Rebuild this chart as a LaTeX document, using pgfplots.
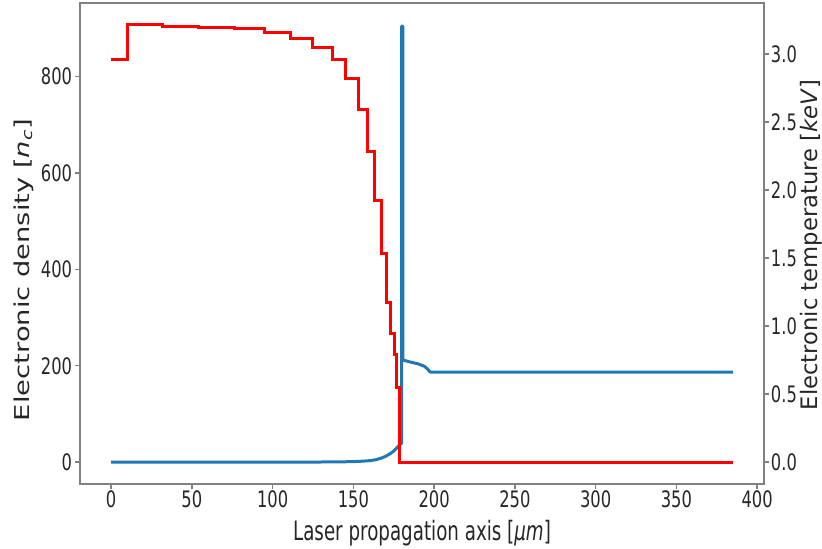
\documentclass[border=0pt]{standalone}
\usepackage{pgfplots}
\pgfplotsset{compat=1.18}
\usepackage{fontspec}
\setmainfont{DejaVu Sans}
\newfontfamily\tickfont[FakeStretch=0.72]{DejaVu Sans}
\newfontfamily\xlabfont[FakeStretch=0.685]{DejaVu Sans}
\newfontfamily\ylabfont{DejaVu Sans}
\definecolor{mplblue}{HTML}{1F77B4}
\definecolor{mplred}{HTML}{FF0000}
\definecolor{framegray}{HTML}{808080}
\begin{document}
\begin{tikzpicture}
\pgfplotsset{
  every axis/.append style={
    scale only axis, width=513pt, height=360.75pt,
    xmin=-19.25, xmax=404.25, clip=false,
    axis line style={framegray, line width=1pt},
    tick style={framegray, line width=1pt},
    tick align=outside, major tick length=3.75pt,
    /pgf/number format/assume math mode=true,
    tick label style={font=\tickfont\fontsize{17pt}{20pt}\selectfont, text=black!85, inner sep=0pt},
  }
}
\begin{axis}[
  xtick pos=lower, ytick pos=left,
  ymin=-45.4, ymax=953,
  xtick={0,50,...,400},
  ytick={0,200,400,600,800},
  xticklabel style={anchor=north, yshift=-1.2pt},
  yticklabel style={anchor=east, xshift=-2pt},
]
\addplot[mplblue, line width=2.25pt, line join=round] coordinates {
(0,0) (120,0) (140,0.5) (150,1) (156,2) (160,3) (164,5) (167,8) (170,12) (173,18) (175,23) (177,30) (179.3,38)
(179.9,38) (179.9,905) (180.6,905) (180.6,212) (185,208) (190,204) (194,199) (196,193) (197.5,187) (385,187)
};
\coordinate (sw) at (rel axis cs:0,0);
\coordinate (ne) at (rel axis cs:1,1);
\node[anchor=base, text=black!85, font=\xlabfont\fontsize{20pt}{24pt}\selectfont]
  at ([yshift=-42.75pt]rel axis cs:0.5,0) {Laser propagation axis [\textit{μm}]};
\node[rotate=90, anchor=center, text=black!85, font=\ylabfont\fontsize{20.5pt}{24pt}\selectfont]
  at ([xshift=-42pt]rel axis cs:0,0.445) {\scalebox{1}[0.75]{Electronic density [\textit{n}\textsubscript{\textit{c}}]}};
\end{axis}
\begin{axis}[
  axis y line*=right, axis x line=none,
  ymin=-0.161, ymax=3.375,
  ytick={0,0.5,1,1.5,2,2.5,3},
  yticklabel style={anchor=west, xshift=1.25pt, /pgf/number format/.cd, fixed, fixed zerofill, precision=1},
]
\addplot[mplred, line width=2.25pt, const plot mark left] coordinates {
(0,2.96) (10.3,3.214) (32,3.204) (54,3.197) (76.7,3.185) (94.7,3.155) (110.8,3.111) (124.9,3.05)
(137,2.96) (145,2.82) (153.1,2.59) (158.7,2.28) (162.8,1.92) (167.2,1.53) (170.7,1.17) (172.7,0.946)
(175.4,0.788) (176.9,0.55) (178.7,0.0) (385,0.0)
};
\node[rotate=90, anchor=center, text=black!85, font=\ylabfont\fontsize{17pt}{20pt}\selectfont]
  at ([xshift=35.25pt]rel axis cs:1,0.497) {Electronic temperature [\textit{keV}]};
\end{axis}
\pgfresetboundingbox
\path ([shift={(-60pt,-48.75pt)}]sw) rectangle ([shift={(43.5pt,2.25pt)}]ne);
\end{tikzpicture}
\end{document}
